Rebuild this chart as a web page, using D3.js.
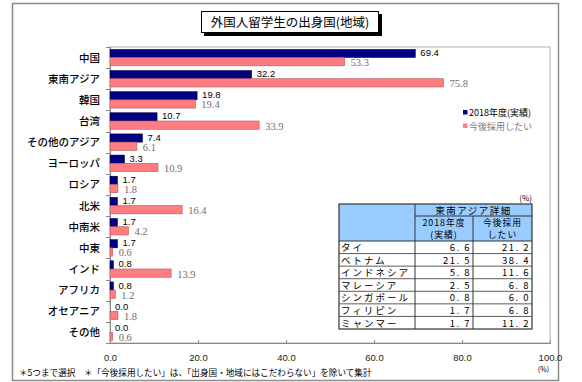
<!DOCTYPE html>
<html><head><meta charset="utf-8">
<script src="https://cdn.jsdelivr.net/npm/d3@7"></script>
<style>
body{margin:0;background:#fff;}
svg{display:block;}
</style></head>
<body>
<svg id="c" width="582" height="382"></svg>
<script>
const categories = ["中国","東南アジア","韓国","台湾","その他のアジア","ヨーロッパ","ロシア","北米","中南米","中東","インド","アフリカ","オセアニア","その他"];
const actual2018 = [69.4,32.2,19.8,10.7,7.4,3.3,1.7,1.7,1.7,1.7,0.8,0.8,0.0,0.0];
const future = [53.3,75.8,19.4,33.9,6.1,10.9,1.8,16.4,4.2,0.6,13.9,1.2,1.8,0.6];
const seriesNames = ["2018年度(実績)","今後採用したい"];
const xTicks = [0,20,40,60,80,100];
const tableRows = ["タイ","ベトナム","インドネシア","マレーシア","シンガポール","フィリピン","ミャンマー"];
const table2018 = [6.6,21.5,5.8,2.5,0.8,1.7,1.7];
const tableFuture = [21.2,38.4,11.6,6.8,6.0,6.8,11.2];

const svg = d3.select("#c");
const JP = "'Noto Sans CJK JP','Noto Sans',sans-serif";
const SANS = "'Liberation Sans',Arial,sans-serif";
const SERIF = "'Liberation Serif','Times New Roman',serif";

// outer frame
svg.append("rect").attr("x",12.5).attr("y",3.5).attr("width",546).attr("height",377)
  .attr("fill","#fff").attr("stroke","#8c8c8c").attr("stroke-width",1.5);

// title box with shadow
svg.append("rect").attr("x",204).attr("y",14).attr("width",178).attr("height",22).attr("fill","#000");
svg.append("rect").attr("x",201.5).attr("y",11.5).attr("width",177).attr("height",21)
  .attr("fill","#fff").attr("stroke","#000").attr("stroke-width",1);
svg.append("text").attr("x",290).attr("y",26.5).attr("text-anchor","middle")
  .attr("font-family",JP).attr("font-size",12.5).attr("fill","#000")
  .text("外国人留学生の出身国(地域)");

const x = d3.scaleLinear().domain([0,100]).range([110,550]);
const y = d3.scaleBand().domain(categories).range([47,343]).paddingInner(0.22).paddingOuter(0.11);
const ySub = d3.scaleBand().domain([0,1]).range([0,y.bandwidth()]);

// plot frame
svg.append("rect").attr("x",110).attr("y",47).attr("width",440).attr("height",296)
  .attr("fill","none").attr("stroke","#b0b0b0").attr("stroke-width",1);

// left axis ticks at category boundaries
const yb = d3.scaleLinear().domain([0,14]).range([47,343]);
svg.append("g").selectAll("line").data(d3.range(15)).join("line")
  .attr("x1",106).attr("x2",110).attr("y1",d=>Math.round(yb(d))+0.5).attr("y2",d=>Math.round(yb(d))+0.5)
  .attr("stroke","#888");
svg.append("line").attr("x1",110.5).attr("x2",110.5).attr("y1",47).attr("y2",343).attr("stroke","#888");

// bottom axis
const xAxis = d3.axisBottom(x).tickValues(xTicks).tickFormat(d3.format(".1f")).tickSize(-3).tickPadding(11);
const gx = svg.append("g").attr("transform","translate(0,343)").call(xAxis);
gx.select(".domain").attr("stroke","#888");
gx.selectAll(".tick line").attr("stroke","#888");
gx.selectAll("text").attr("font-family",SANS).attr("font-size",9.5).attr("fill","#222");

// category labels
svg.append("g").selectAll("text").data(categories).join("text")
  .attr("x",100).attr("y",d=>y(d)+y.bandwidth()/2+4)
  .attr("text-anchor","end").attr("font-family",JP).attr("font-size",10.5).attr("font-weight",500)
  .attr("fill","#000").text(d=>d);

// bars
const data = categories.map((c,i)=>({c, a:actual2018[i], f:future[i]}));
const bars = svg.append("g");
bars.selectAll(".b").data(data).join("rect")
  .attr("x",x(0)).attr("y",d=>y(d.c)+ySub(0)).attr("width",d=>x(d.a)-x(0)).attr("height",ySub.bandwidth())
  .attr("fill","#000080").attr("stroke",d=>d.a>0?"#000040":"none").attr("stroke-width",0.5);
bars.selectAll(".p").data(data).join("rect")
  .attr("x",x(0)).attr("y",d=>y(d.c)+ySub(1)).attr("width",d=>x(d.f)-x(0)).attr("height",ySub.bandwidth())
  .attr("fill","#ff7c80").attr("stroke","#b05858").attr("stroke-width",0.6);

// labels
const labels = svg.append("g");
labels.selectAll(".lb").data(data).join("text")
  .attr("x",d=>x(d.a)+5).attr("y",d=>y(d.c)+ySub(0)+ySub.bandwidth()/2+2.5)
  .attr("font-family",SANS).attr("font-size",9.5).attr("fill","#000")
  .text(d=>d3.format(".1f")(d.a));
labels.selectAll(".lp").data(data).join("text")
  .attr("x",d=>x(d.f)+6).attr("y",d=>y(d.c)+ySub(1)+ySub.bandwidth()/2+4.5)
  .attr("font-family",SERIF).attr("font-size",10.5).attr("fill","#6e6e6e")
  .text(d=>d3.format(".1f")(d.f));

// legend
const lg = svg.append("g");
const lcol = ["#000080","#ff7c80"];
const ltxt = ["#000","#777"];
seriesNames.forEach((s,i)=>{
  lg.append("rect").attr("x",463).attr("y",110+i*13.5).attr("width",4.5).attr("height",4.5).attr("fill",lcol[i]);
  lg.append("text").attr("x",469).attr("y",116+i*13.5).attr("font-family",JP).attr("font-size",9)
    .attr("fill",ltxt[i]).text(s);
});

// table
const tb = svg.append("g");
const cx = [339,415,473,532];
const hdrTop = 204, hdr1 = 216, hdr2 = 241, rowH = (329-241)/7;
tb.append("text").attr("x",532).attr("y",201).attr("text-anchor","end")
  .attr("font-family",JP).attr("font-size",8).attr("fill","#000").text("(%)");
tb.append("rect").attr("x",cx[0]).attr("y",hdrTop).attr("width",cx[3]-cx[0]).attr("height",hdr2-hdrTop)
  .attr("fill","#99ccff");
tb.append("rect").attr("x",cx[0]).attr("y",hdr2).attr("width",cx[3]-cx[0]).attr("height",329-hdr2)
  .attr("fill","#fff");
const lineC = "#333";
tb.append("line").attr("x1",cx[1]).attr("x2",cx[3]).attr("y1",hdr1).attr("y2",hdr1).attr("stroke",lineC);
tb.append("line").attr("x1",cx[1]).attr("x2",cx[1]).attr("y1",hdrTop).attr("y2",329).attr("stroke",lineC);
tb.append("line").attr("x1",cx[2]).attr("x2",cx[2]).attr("y1",hdr1).attr("y2",329).attr("stroke",lineC);
tableRows.forEach((r,i)=>{
  const yy = hdr2 + i*rowH;
  tb.append("line").attr("x1",cx[0]).attr("x2",cx[3]).attr("y1",yy).attr("y2",yy).attr("stroke",lineC).attr("stroke-width",i===0?1.2:0.8);
});
tb.append("rect").attr("x",cx[0]).attr("y",hdrTop).attr("width",cx[3]-cx[0]).attr("height",329-hdrTop)
  .attr("fill","none").attr("stroke",lineC).attr("stroke-width",1.2);
tb.append("text").attr("x",(cx[1]+cx[3])/2).attr("y",hdr1-2.5).attr("text-anchor","middle")
  .attr("font-family",JP).attr("font-size",9.5).attr("letter-spacing",1.5).text("東南アジア詳細");
[["2018年度","(実績)"],["今後採用","したい"]].forEach((h,j)=>{
  const mx = (cx[j+1]+cx[j+2])/2;
  h.forEach((t,k)=>{
    tb.append("text").attr("x",mx).attr("y",hdr1+9.8+k*12).attr("text-anchor","middle")
      .attr("font-family",JP).attr("font-size",8.8).attr("letter-spacing",1).text(t);
  });
});
tableRows.forEach((r,i)=>{
  const yy = hdr2 + (i+1)*rowH - 2.5;
  tb.append("text").attr("x",cx[0]+2).attr("y",yy).attr("font-family",JP).attr("font-size",9.5)
    .attr("letter-spacing",2).text(r);
  tb.append("text").attr("x",cx[2]-2).attr("y",yy).attr("text-anchor","end").attr("font-family",JP)
    .attr("font-size",9.5).attr("letter-spacing",1.5).text(d3.format(".1f")(table2018[i]).replace(".",". "));
  tb.append("text").attr("x",cx[3]-2).attr("y",yy).attr("text-anchor","end").attr("font-family",JP)
    .attr("font-size",9.5).attr("letter-spacing",1.5).text(d3.format(".1f")(tableFuture[i]).replace(".",". "));
});

// footnote
svg.append("text").attr("x",19).attr("y",376).attr("font-family",JP).attr("font-size",8.6).attr("fill","#000")
  .text("＊5つまで選択　＊「今後採用したい」は、「出身国・地域にはこだわらない」を除いて集計");
svg.append("text").attr("x",549).attr("y",372).attr("text-anchor","end").attr("font-family",JP)
  .attr("font-size",7).attr("fill","#000").text("(%)");
</script>
</body></html>
